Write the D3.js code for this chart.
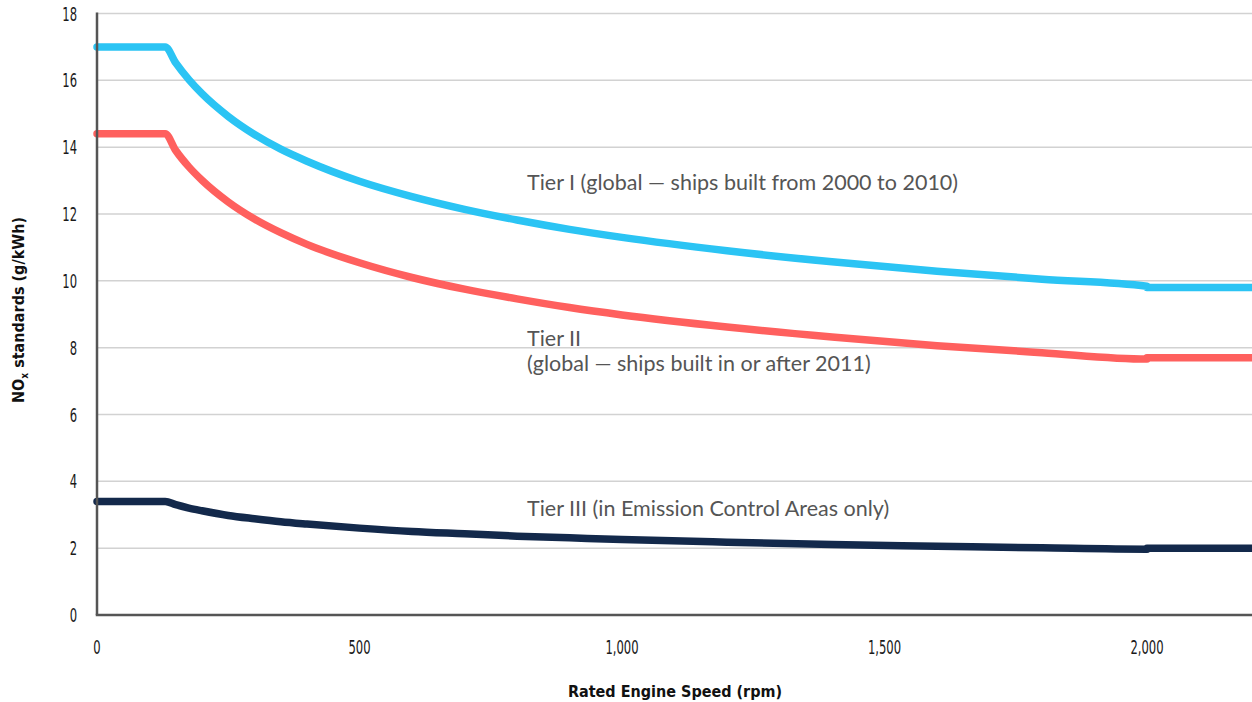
<!DOCTYPE html>
<html>
<head>
<meta charset="utf-8">
<script src="https://cdn.jsdelivr.net/npm/d3@7"></script>
<style>
  html, body { margin: 0; padding: 0; background: #fff; }
  svg { display: block; }
  .tick-label { font-family: "DejaVu Sans Condensed", "DejaVu Sans", sans-serif; font-stretch: condensed; font-size: 19.5px; fill: #1a1a1a; }
  .axis-title { font-family: "Liberation Sans Narrow", "DejaVu Sans Condensed", sans-serif; font-stretch: condensed; font-weight: bold; font-size: 16px; fill: #111; }
  .series-label { font-family: "Lato", "Open Sans", sans-serif; font-size: 21.5px; fill: #555; }
</style>
</head>
<body>
<svg id="chart" width="1252" height="702"></svg>
<script>
// ---- Data ----
const rpm = [0, 130, 150, 175, 200, 250, 300, 350, 400, 500, 600, 700, 800, 900, 1000, 1200, 1400, 1600, 1800, 2000, 2000, 2200];
const tierI   = [17.0, 17.0, 16.52, 16.02, 15.60, 14.92, 14.38, 13.94, 13.58, 12.98, 12.52, 12.14, 11.82, 11.54, 11.30, 10.90, 10.57, 10.29, 10.05, 9.84, 9.8, 9.8];
const tierII  = [14.4, 14.4, 13.90, 13.41, 13.01, 12.36, 11.85, 11.44, 11.09, 10.54, 10.10, 9.75, 9.46, 9.20, 8.98, 8.62, 8.32, 8.06, 7.85, 7.66, 7.7, 7.7];
const tierIII = [3.4, 3.4, 3.30, 3.20, 3.12, 2.98, 2.88, 2.79, 2.72, 2.60, 2.50, 2.43, 2.36, 2.31, 2.26, 2.18, 2.11, 2.06, 2.01, 1.97, 2.0, 2.0];
const yTicks = [0, 2, 4, 6, 8, 10, 12, 14, 16, 18];
const yTickLabels = ["0", "2", "4", "6", "8", "10", "12", "14", "16", "18"];
const xTicks = [0, 500, 1000, 1500, 2000];
const xTickLabels = ["0", "500", "1,000", "1,500", "2,000"];
const seriesNames = ["Tier I", "Tier II", "Tier III"];
const seriesColors = ["#2bc4f4", "#ff605e", "#13294b"];
const seriesLabelLines = [
  ["Tier I (global \u2014 ships built from 2000 to 2010)"],
  ["Tier II", "(global \u2014 ships built in or after 2011)"],
  ["Tier III (in Emission Control Areas only)"]
];

// ---- Layout ----
const svg = d3.select("#chart");
const mLeft = 97, mRight = 1252, mTop = 13.5, mBottom = 615;
const x = d3.scaleLinear().domain([0, 2200]).range([mLeft, mRight]);
const y = d3.scaleLinear().domain([0, 18]).range([mBottom, mTop]);
const squeeze = 0.66;

// gridlines
svg.append("g").selectAll("line").data(yTicks.filter(d => d > 0)).join("line")
  .attr("x1", mLeft).attr("x2", mRight)
  .attr("y1", d => y(d)).attr("y2", d => y(d))
  .attr("stroke", "#d2d2d2").attr("stroke-width", 1.5);

// y tick labels
svg.append("g").selectAll("text").data(yTicks).join("text")
  .attr("class", "tick-label")
  .attr("transform", d => `translate(77,${y(d)}) scale(${squeeze},1)`)
  .attr("dy", "0.36em")
  .attr("text-anchor", "end")
  .text((d, i) => yTickLabels[i]);

// x tick labels
svg.append("g").selectAll("text").data(xTicks).join("text")
  .attr("class", "tick-label")
  .attr("transform", d => `translate(${x(d)},654) scale(${squeeze},1)`)
  .attr("text-anchor", "middle")
  .text((d, i) => xTickLabels[i]);

// series lines
const series = [tierI, tierII, tierIII];
const line = d3.line()
  .x((d, i) => x(rpm[i]))
  .y(d => y(d))
  .curve(d3.curveMonotoneX);
svg.append("g").selectAll("path").data(series).join("path")
  .attr("d", d => line(d))
  .attr("fill", "none")
  .attr("stroke", (d, i) => seriesColors[i])
  .attr("stroke-width", 7.5)
  .attr("stroke-linecap", "round")
  .attr("stroke-linejoin", "round");

// axes lines
svg.append("line").attr("x1", mLeft).attr("x2", mLeft).attr("y1", mTop - 1).attr("y2", mBottom)
  .attr("stroke", "#555").attr("stroke-width", 2.5);
svg.append("line").attr("x1", mLeft - 1.25).attr("x2", mRight).attr("y1", mBottom).attr("y2", mBottom)
  .attr("stroke", "#555").attr("stroke-width", 2.5);

// series labels
const labelPos = [[527, 190], [527, 346], [527, 516]];
seriesLabelLines.forEach((lines, i) => {
  const t = svg.append("text").attr("class", "series-label")
    .attr("x", labelPos[i][0]).attr("y", labelPos[i][1]);
  lines.forEach((ln, j) => {
    t.append("tspan").attr("x", labelPos[i][0]).attr("dy", j === 0 ? 0 : 25).text(ln);
  });
});

// axis titles
svg.append("text").attr("class", "axis-title")
  .attr("x", 675).attr("y", 697).attr("text-anchor", "middle")
  .text("Rated Engine Speed (rpm)");

const yt = svg.append("text").attr("class", "axis-title")
  .attr("transform", "translate(24,310) rotate(-90)")
  .attr("text-anchor", "middle");
yt.append("tspan").text("NO");
yt.append("tspan").attr("font-size", "10px").attr("dy", 4).text("x");
yt.append("tspan").attr("dy", -4).text(" standards (g/kWh)");
</script>
</body>
</html>
